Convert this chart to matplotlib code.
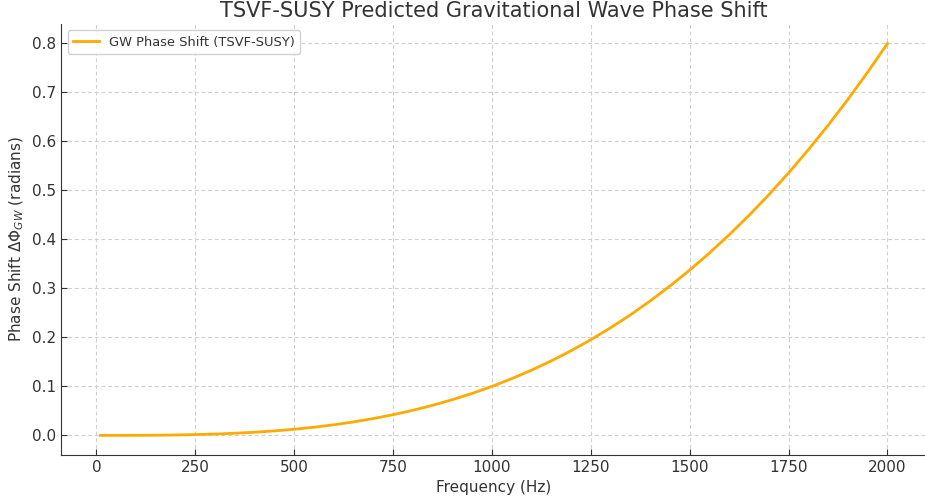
import matplotlib
matplotlib.use("Agg")
import matplotlib.pyplot as plt

# Frequency (Hz) and phase shift (radians)
freq = [10, 50, 100, 150, 200, 250, 300, 350, 400, 450, 500, 550, 600, 650,
        700, 750, 800, 850, 900, 950, 1000, 1050, 1100, 1150, 1200, 1250,
        1300, 1350, 1400, 1450, 1500, 1550, 1600, 1650, 1700, 1750, 1800,
        1850, 1900, 1950, 2000]
phase = [0.0, 0.0, 0.0001, 0.0003, 0.0008, 0.0016, 0.0027, 0.0043, 0.0064,
         0.0091, 0.0125, 0.0166, 0.0216, 0.0275, 0.0343, 0.0422, 0.0512,
         0.0614, 0.0729, 0.0857, 0.100, 0.1158, 0.1331, 0.1521, 0.1728,
         0.1953, 0.2197, 0.2460, 0.2744, 0.3049, 0.3375, 0.3724, 0.4096,
         0.4492, 0.4913, 0.5359, 0.5832, 0.6332, 0.6859, 0.7415, 0.800]

text_color = "#333333"
plt.rcParams["font.family"] = "DejaVu Sans"
plt.rcParams["text.color"] = text_color
plt.rcParams["axes.labelcolor"] = text_color
plt.rcParams["xtick.color"] = text_color
plt.rcParams["ytick.color"] = text_color

fig = plt.figure(figsize=(9.25, 5.03), dpi=100)
ax = fig.add_axes([0.066, 0.0955, 0.936, 0.857])

ax.plot(freq, phase, color="#FFAA00", linewidth=2, label="GW Phase Shift (TSVF-SUSY)")

ax.set_title("TSVF-SUSY Predicted Gravitational Wave Phase Shift", fontsize=15, pad=5)
ax.set_xlabel("Frequency (Hz)", fontsize=11)
ax.set_ylabel(r"Phase Shift $\Delta\Phi_{GW}$ (radians)", fontsize=11)

ax.set_xticks([0, 250, 500, 750, 1000, 1250, 1500, 1750, 2000])
ax.set_yticks([0.0, 0.1, 0.2, 0.3, 0.4, 0.5, 0.6, 0.7, 0.8])
ax.tick_params(direction="in", labelsize=11, length=4, colors=text_color)

ax.grid(True, linestyle=(0, (3.5, 2.5)), color="#d0d0d0", linewidth=0.8)
ax.set_axisbelow(True)
for side in ["top", "right"]:
    ax.spines[side].set_visible(False)
for side in ["left", "bottom"]:
    ax.spines[side].set_color(text_color)

ax.legend(loc="upper left", fontsize=9.4, framealpha=0.9, edgecolor="#cccccc")

fig.savefig("out.png", dpi=100)
